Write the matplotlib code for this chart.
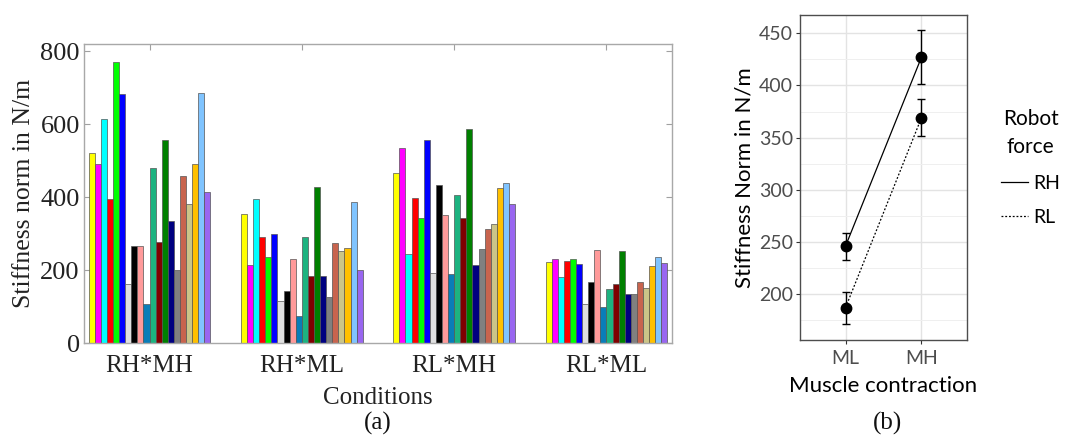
import matplotlib
matplotlib.use("Agg")
import matplotlib.pyplot as plt
import numpy as np
from matplotlib.lines import Line2D

# ---------------- data (a) ----------------
conditions = ["RH*MH", "RH*ML", "RL*MH", "RL*ML"]
subject_colors = ["#ffff00", "#ff00ff", "#00ffff", "#ff0000", "#00ff00",
                  "#0000ff", "#e0e0e0", "#000000", "#ff9a9a", "#0a7db8",
                  "#1db380", "#800000", "#008000", "#000080", "#808080",
                  "#c8644e", "#cbc588", "#ffc000", "#80c4ff", "#9966f0"]
rh_mh = [520, 490, 614, 394, 771, 682, 162, 267, 267, 108,
         480, 277, 558, 334, 199, 457, 381, 492, 685, 414]
rh_ml = [355, 213, 394, 291, 235, 299, 116, 142, 231, 74,
         291, 183, 429, 184, 125, 274, 251, 260, 388, 199]
rl_mh = [465, 536, 243, 398, 343, 558, 192, 432, 350, 188,
         406, 343, 586, 214, 258, 314, 325, 425, 438, 382]
rl_ml = [223, 231, 182, 226, 229, 216, 106, 168, 256, 98,
         147, 163, 251, 135, 134, 168, 151, 211, 235, 219]

# ---------------- data (b) ----------------
muscle_levels = ["ML", "MH"]
rh_mean = [246, 427]
rh_lo = [233, 401]
rh_hi = [259, 453]
rl_mean = [187, 369]
rl_lo = [171, 352]
rl_hi = [202, 387]

fig = plt.figure(figsize=(10.83, 4.37), dpi=100)
serif = ["Liberation Serif", "DejaVu Serif"]
sans = ["Lato", "Open Sans", "DejaVu Sans"]

# ---------------- panel (a) ----------------
axa = fig.add_axes([84/1083, 1-343/437, (672-84)/1083, (343-44)/437])
values = np.array([rh_mh, rh_ml, rl_mh, rl_ml])
n_groups, n_sub = values.shape
group_w = 0.8
bw = group_w / n_sub
xg = np.arange(1, n_groups + 1)
for j in range(n_sub):
    xs = xg - group_w/2 + bw*(j + 0.5)
    axa.bar(xs, values[:, j], width=bw, color=subject_colors[j],
            edgecolor="#555555", linewidth=0.5, zorder=2)
axa.set_xlim(0.57, 4.43)
axa.set_ylim(0, 820)
axa.set_yticks([0, 200, 400, 600, 800])
axa.set_xticks(xg)
axa.set_xticklabels(conditions, fontfamily=serif, fontsize=18)
for lab in axa.get_yticklabels():
    lab.set_fontfamily(serif)
    lab.set_fontsize(19)
axa.tick_params(axis="both", direction="in", length=4, color="#a0a0a0",
                top=True, right=True, labelcolor="#222222")
axa.tick_params(axis="x", bottom=False, pad=9)
axa.tick_params(axis="y", pad=3)
for s in axa.spines.values():
    s.set_color("#a8a8a8")
    s.set_linewidth(1.0)
axa.set_ylabel("Stiffness norm in N/m", fontfamily=serif, fontsize=18.5,
               color="#222222", labelpad=4)
axa.set_xlabel("Conditions", fontfamily=serif, fontsize=18,
               color="#222222", labelpad=7)
fig.text(378/1083, 1-423/437, "(a)", ha="center", va="center",
         fontfamily=serif, fontsize=18, color="#111111")

# ---------------- panel (b) ----------------
axb = fig.add_axes([800/1083, 1-340/437, (967-800)/1083, (340-15)/437])
xb = np.arange(1, len(muscle_levels) + 1)
axb.plot(xb, rh_mean, color="black", linestyle="-", linewidth=0.9, zorder=3)
axb.plot(xb, rl_mean, color="black", linestyle=(0, (1.5, 1.5)), linewidth=0.9, zorder=3)
for mean, lo, hi in [(rh_mean, rh_lo, rh_hi), (rl_mean, rl_lo, rl_hi)]:
    mean = np.array(mean)
    axb.errorbar(xb, mean, yerr=[mean - np.array(lo), np.array(hi) - mean],
                 fmt="o", color="black", markersize=7.5, capsize=3,
                 elinewidth=1.0, capthick=1.0, zorder=4)
axb.set_xlim(0.4, 2.6)
axb.set_ylim(156, 467.5)
axb.set_yticks([200, 250, 300, 350, 400, 450])
axb.set_yticks(np.arange(175, 467, 50), minor=True)
axb.set_xticks(xb)
axb.set_xticklabels(muscle_levels)
axb.grid(True, which="major", color="#e3e3e3", linewidth=1.0, zorder=0)
axb.grid(True, which="minor", axis="y", color="#efefef", linewidth=0.7, zorder=0)
axb.set_axisbelow(True)
axb.tick_params(axis="both", which="major", direction="out", length=3,
                color="#333333", labelsize=14, labelcolor="#4d4d4d", pad=2)
axb.tick_params(axis="x", pad=4)
axb.tick_params(axis="y", which="minor", length=0)
for lab in axb.get_xticklabels() + axb.get_yticklabels():
    lab.set_fontfamily(sans)
for s in axb.spines.values():
    s.set_color("#4d4d4d")
    s.set_linewidth(1.0)
axb.set_ylabel("Stiffness Norm in N/m", fontfamily=sans, fontsize=16,
               color="black", labelpad=3)
axb.set_xlabel("Muscle contraction", fontfamily=sans, fontsize=16,
               color="black", labelpad=7)
handles = [Line2D([], [], color="black", linestyle="-", linewidth=0.9),
           Line2D([], [], color="black", linestyle=(0, (1.5, 1.5)), linewidth=0.9)]
leg = axb.legend(handles, ["RH", "RL"], title="Robot\nforce", frameon=False,
                 loc="center left", bbox_to_anchor=(1.1, 0.53),
                 prop={"family": sans, "size": 14}, handlelength=1.4,
                 handletextpad=0.25, labelspacing=0.9)
leg.get_title().set_fontfamily(sans)
leg.get_title().set_fontsize(15)
leg.get_title().set_multialignment("center")
leg.get_title().set_linespacing(1.5)
fig.text(887/1083, 1-423/437, "(b)", ha="center", va="center",
         fontfamily=serif, fontsize=18, color="#111111")

fig.savefig("out.png", dpi=100)
